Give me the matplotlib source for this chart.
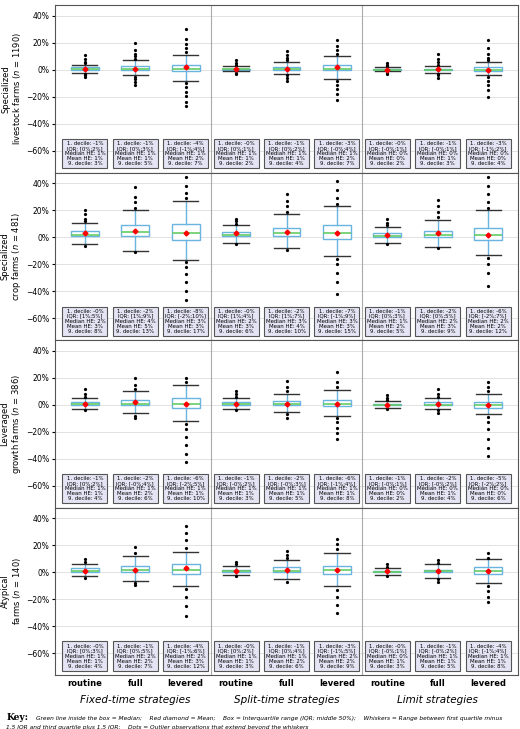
import matplotlib.pyplot as plt
import matplotlib.ticker as mticker

clusters = [
    "Cluster 1\nSpecialized\nlivestock farms ($n$ = 1190)",
    "Cluster 2\nSpecialized\ncrop farms ($n$ = 481)",
    "Cluster 3\nLeveraged\ngrowth farms ($n$ = 386)",
    "Cluster 4\nAtypical\nfarms ($n$ = 140)",
]
strategies = ["routine", "full", "levered"] * 3
groups = ["Fixed-time strategies", "Split-time strategies", "Limit strategies"]

# per cluster, per box (9); strings keep the "-0" signs printed in the boxes
dec1 = [["-1", "-1", "-4", "-0", "-1", "-3", "-0", "-1", "-3"],
        ["-0", "-2", "-8", "-0", "-2", "-7", "-1", "-2", "-6"],
        ["-1", "-2", "-6", "-1", "-2", "-6", "-1", "-2", "-5"],
        ["-0", "-1", "-4", "-0", "-1", "-3", "-0", "-1", "-4"]]
q1 = [["0", "0", "-1", "0", "0", "-0", "-0", "-0", "-1"],
      ["1", "1", "-2", "1", "1", "-1", "0", "0", "-2"],
      ["0", "-0", "-2", "-0", "-0", "-1", "-0", "-0", "-2"],
      ["0", "0", "-1", "0", "0", "-1", "-0", "-0", "-1"]]
q3 = [[2, 3, 4, 1, 2, 4, 1, 1, 2],
      [5, 9, 10, 4, 7, 9, 3, 5, 7],
      [2, 4, 5, 2, 3, 4, 1, 2, 2],
      [3, 5, 6, 2, 4, 5, 1, 2, 4]]
median = [[1, 1, 1, 1, 1, 1, 0, 0, 0],
          [2, 4, 3, 2, 3, 3, 1, 2, 2],
          [1, 1, 1, 1, 1, 1, 0, 0, 0],
          [1, 2, 2, 1, 1, 2, 0, 1, 1]]
mean = [[1, 1, 2, 1, 1, 2, 0, 1, 0],
        [3, 5, 3, 3, 4, 3, 2, 3, 2],
        [1, 2, 1, 1, 1, 1, 0, 1, 0],
        [1, 2, 3, 1, 2, 2, 1, 1, 1]]
dec9 = [[3, 5, 7, 2, 4, 7, 2, 3, 4],
        [8, 13, 17, 6, 10, 15, 5, 9, 12],
        [4, 6, 10, 3, 5, 8, 2, 4, 6],
        [4, 7, 12, 3, 6, 9, 3, 5, 8]]
wlo = [[-2, -4, -8, -1, -3, -7, -1, -2, -4],
       [-5, -10, -17, -4, -8, -14, -4, -7, -13],
       [-3, -6, -12, -3, -5, -8, -2, -3, -7],
       [-3, -6, -10, -2, -5, -10, -2, -4, -8]]
whi = [[4, 7, 11, 3, 6, 10, 2, 3, 6],
       [11, 20, 27, 9, 17, 23, 8, 13, 20],
       [5, 10, 15, 5, 8, 11, 3, 5, 8],
       [6, 12, 15, 5, 9, 14, 3, 6, 10]]
fliers = [
    [[-3, -4, -5, 5, 6, 8, 11], [-5, -7, -9, -11, 8, 10, 12, 15, 20],
     [-10, -13, -16, -19, -24, -27, 13, 16, 19, 23, 30],
     [-2, -3, 4, 5, 7], [-4, -6, -8, 7, 9, 11, 14], [-8, -11, -14, -18, -22, 12, 15, 18, 22],
     [-2, -3, 3, 4, 5], [-3, -4, -6, 4, 6, 8, 12], [-5, -8, -11, -15, -20, 7, 9, 12, 16, 22]],
    [[-6, 12, 14, 17, 20], [-11, 22, 26, 30, 37], [-18, -22, -27, -33, -40, -46, 29, 33, 38, 45],
     [-5, 10, 12, 14], [-9, 19, 23, 27, 32], [-16, -20, -26, -33, -42, 25, 29, 35, 42],
     [-5, 9, 11, 14], [-8, 15, 19, 23, 28], [-15, -20, -26, -36, 22, 26, 32, 38, 45]],
    [[-4, 6, 8, 12], [-8, -10, 12, 15, 20], [-14, -18, -24, -30, -36, -42, 17, 20],
     [-4, 6, 8, 10], [-7, -10, 10, 13, 18], [-10, -13, -17, -21, -25, 13, 17, 24],
     [-3, 4, 5, 7], [-4, -6, 6, 8, 12], [-9, -13, -18, -25, -32, -38, 10, 13, 17]],
    [[-4, 8, 10], [-8, -9, 14, 19], [-12, -18, -25, -32, 18, 24, 29, 34],
     [-3, 6, 8], [-7, 11, 13, 16], [-13, -18, -24, -30, 17, 21, 25],
     [-3, 4, 6], [-5, -7, 7, 9], [-10, -14, -18, -22, 11, 14]],
]

fig, axes = plt.subplots(4, 1, figsize=(5.2, 7.29), dpi=100, sharex=True)
fig.subplots_adjust(left=0.105, right=0.997, top=0.993, bottom=0.074, hspace=0)

for c, ax in enumerate(axes):
    stats = []
    for i in range(9):
        stats.append(dict(med=median[c][i], q1=int(q1[c][i]), q3=q3[c][i], mean=mean[c][i],
                          whislo=wlo[c][i], whishi=whi[c][i], fliers=fliers[c][i]))
    ax.bxp(stats, positions=range(9), widths=0.55, capwidths=0.5, showmeans=True, patch_artist=True,
           boxprops=dict(facecolor="white", edgecolor="#6ab4e0", linewidth=1),
           whiskerprops=dict(color="#6ab4e0", linewidth=1),
           capprops=dict(color="#333333", linewidth=1),
           medianprops=dict(color="#66cc66", linewidth=1.2),
           meanprops=dict(marker="D", markerfacecolor="red", markeredgecolor="red", markersize=2.5),
           flierprops=dict(marker="o", markerfacecolor="black", markeredgecolor="black", markersize=1.3))
    for i in range(9):
        txt = (f"1. decile: {dec1[c][i]}%\nIQR: [{q1[c][i]}%;{q3[c][i]}%]\n"
               f"Median HE: {median[c][i]}%\nMean HE: {mean[c][i]}%\n9. decile: {dec9[c][i]}%")
        ax.text(i, -62, txt, ha="center", va="center", fontsize=3.9, linespacing=1.0,
                bbox=dict(boxstyle="square,pad=0.4", facecolor="#e4e4f4", edgecolor="#555555", linewidth=0.8))
    ax.set_ylim(-76, 48)
    ax.set_xlim(-0.6, 8.6)
    ax.set_yticks([40, 20, 0, -20, -40, -60])
    ax.yaxis.set_major_formatter(mticker.FuncFormatter(lambda v, p: f"{v:.0f}%".replace("-", "\u2212")))
    ax.tick_params(axis="y", labelsize=5.5, length=2, pad=2)
    ax.grid(axis="y", color="#dddddd", linewidth=0.6)
    ax.set_axisbelow(True)
    for xv in (2.5, 5.5):
        ax.axvline(xv, color="#aaaaaa", linewidth=0.8)
    ax.set_ylabel(clusters[c], fontsize=6, linespacing=1.1, labelpad=2)
    for s in ax.spines.values():
        s.set_color("#555555")

axes[-1].set_xticks(range(9))
axes[-1].set_xticklabels(strategies, fontsize=6, fontweight="bold")
axes[-1].tick_params(axis="x", length=0, pad=3)
for g, name in enumerate(groups):
    fig.text(0.105 + 0.892 * (g * 3 + 1 + 0.6) / 9.2, 0.036, name, ha="center",
             fontsize=7.5, style="italic")

fig.text(0.012, 0.012, "Key:", fontsize=6.5, fontweight="bold", family="serif")
fig.text(0.07, 0.012,
         "Green line inside the box = Median;    Red diamond = Mean;    Box = Interquartile range (IQR; middle 50%);    "
         "Whiskers = Range between first quartile minus",
         fontsize=4.2, style="italic")
fig.text(0.012, 0.0, "1.5 IQR and third quartile plus 1.5 IQR;    Dots = Outlier observations that extend beyond the whiskers",
         fontsize=4.2, style="italic")

fig.savefig("out.png", dpi=100)
